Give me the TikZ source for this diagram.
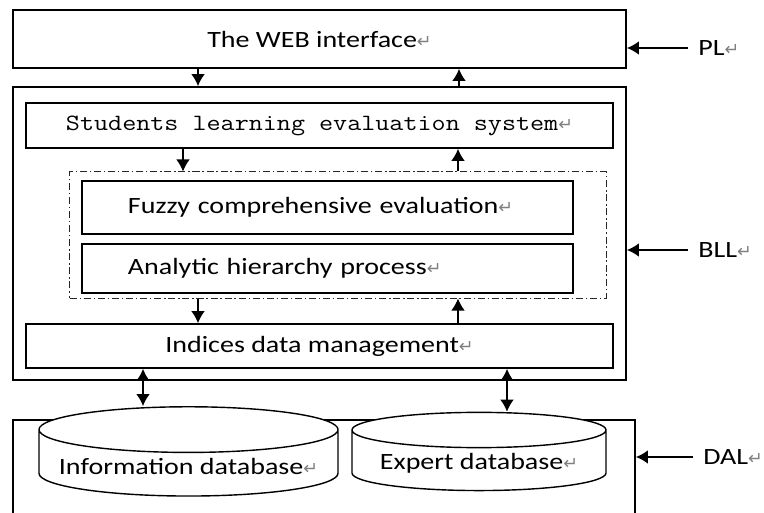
\documentclass[tikz,border=0pt]{standalone}
\usepackage{fontspec}
\usetikzlibrary{shapes.geometric,arrows.meta}
\newfontfamily\calfont{Carlito}[FakeStretch=1.2]
\newfontfamily\retfont{DejaVu Sans}
\newcommand{\retmark}{{\retfont\fontsize{12.5}{12}\selectfont\color{gray}↵}}
\newcommand{\widecode}[1]{\scalebox{1.17}[1]{#1}}

\tikzstyle{layer} = [rectangle, minimum width=15.325cm, draw=black, line width=1.2pt, fill=white, text centered, font=\calfont\fontsize{16.6}{20}\selectfont]
\tikzstyle{process} = [rectangle, minimum width=14.675cm, draw=black, line width=1.2pt, fill=white, text centered, font=\calfont\fontsize{16.6}{20}\selectfont]
\tikzstyle{method} = [rectangle, text width=9.975cm, inner xsep=1.15cm, align=left, draw=black, line width=1.2pt, fill=white, font=\calfont\fontsize{16.6}{20}\selectfont]
\tikzstyle{group} = [rectangle, minimum width=13.4cm, minimum height=3.15cm, draw=black!85, line width=0.7pt, dash pattern=on 5pt off 2pt on 1pt off 2pt]
\tikzstyle{database} = [cylinder, shape border rotate=90, aspect=0.17, draw=black, line width=1pt, fill=white, font=\calfont\fontsize{16.6}{20}\selectfont]
\tikzstyle{tag} = [inner xsep=0.25cm, inner ysep=0pt, font=\calfont\fontsize{16.6}{20}\selectfont]
\tikzstyle{arrow} = [line width=1pt,->,>={Latex[length=3mm,width=3.4mm]}]
\tikzstyle{dblarrow} = [line width=1pt,<->,>={Latex[length=3mm,width=3.4mm]}]

\begin{document}
\begin{tikzpicture}[x=0.025cm, y=-0.025cm]
	\clip (0,0) rectangle (764,513);
	% Place layers
	\node [layer, minimum height=1.45cm] (web) at (319.5,39) {The WEB interface\retmark};
	\node [layer, minimum height=7.325cm] (bll) at (319.5,233.5) {};
	\node [layer, minimum width=15.55cm, minimum height=2.75cm] (dal) at (324,475) {};
	% Place nodes inside BLL
	\node [process, minimum height=1.125cm, font=\ttfamily\fontsize{16.6}{20}\selectfont] (students) at (319.5,125.5) {\widecode{Students learning evaluation system}\retmark};
	\node [group] (methods) at (338,235) {};
	\node [method, minimum height=1.325cm] (fuzzy) at (327.5,207.5) {Fuzzy comprehensive evaluation\retmark};
	\node [method, minimum height=1.225cm] (ahp) at (327.5,268.5) {Analytic hierarchy process\retmark};
	\node [process, minimum height=1.1cm] (indices) at (319.5,346) {Indices data management\retmark};
	% Place databases
	\node [database, minimum width=7.475cm, minimum height=2.05cm] (infodb) at (188.5,466) {Information database\retmark};
	\node [database, minimum width=6.35cm, minimum height=1.8cm] (expertdb) at (479,463) {Expert database\retmark};
	% Layer names
	\node [tag, anchor=west] (pltag) at (688,48) {PL\retmark};
	\node [tag, anchor=west] (blltag) at (688,250) {BLL\retmark};
	\node [tag, anchor=west] (daltag) at (693,457) {DAL\retmark};
	% Draw edges
	\draw [arrow] (198,0 |- web.south) -- (198,0 |- bll.north);
	\draw [arrow] (459,0 |- bll.north) -- (459,0 |- web.south);
	\draw [arrow] (183,0 |- students.south) -- (183,0 |- methods.north);
	\draw [arrow] (458,0 |- methods.north) -- (458,0 |- students.south);
	\draw [arrow] (198,0 |- methods.south) -- (198,0 |- indices.north);
	\draw [arrow] (458,0 |- indices.north) -- (458,0 |- methods.south);
	\draw [dblarrow] (143,0 |- indices.south) -- (143,0 |- infodb.top);
	\draw [dblarrow] (507,0 |- indices.south) -- (507,0 |- expertdb.top);
	\draw [arrow] (pltag.west) -- (pltag.west -| web.east);
	\draw [arrow] (blltag.west) -- (blltag.west -| bll.east);
	\draw [arrow] (daltag.west) -- (daltag.west -| dal.east);
\end{tikzpicture}
\end{document}
